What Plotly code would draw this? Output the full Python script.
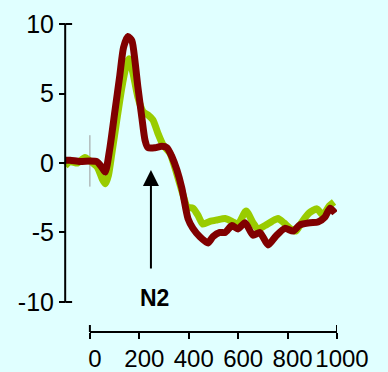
import plotly.graph_objects as go

# Event-related potential waveforms (time in ms, amplitude in µV)
t_green = [-100, -80, -50, -20, 0, 30, 50, 63, 75, 89, 109, 130, 150, 158, 174, 194, 215, 235, 255,
           275, 296, 324, 352, 377, 395, 417, 437, 457, 486, 514, 547, 575, 599, 632,
           660, 680, 709, 737, 761, 785, 810, 834, 858, 887, 919, 943, 968, 988]
v_green = [-0.2, 0.1, 0.0, 0.4, 0.15, -0.3, -1.15, -1.5, -0.9, 0.7, 3.1, 5.5, 7.2, 7.5, 6.5, 4.75, 3.7, 3.45, 3.1,
           2.15, 1.3, 0.7, -0.8, -2.3, -3.2, -3.25, -3.75, -4.4, -4.2, -4.1, -4.0, -4.2, -4.4, -3.45,
           -4.3, -4.75, -4.5, -4.2, -4.0, -4.3, -4.7, -4.9, -4.25, -3.6, -3.3, -3.75, -3.1, -2.8]

t_red = [-100, -80, -40, 0, 28, 46, 62, 81, 101, 121, 136, 154, 170, 182, 194, 210, 223, 235,
         263, 291, 312, 332, 352, 372, 397, 417, 445, 478, 498, 526, 547, 575,
         599, 628, 660, 688, 721, 753, 789, 822, 850, 891, 923, 951, 972, 992]
v_red = [0.2, 0.2, 0.1, 0.15, 0.1, -0.25, -0.65, 1.1, 3.7, 6.3, 8.3, 9.1, 8.8, 7.4, 5.5, 3.3, 1.65, 1.1,
         1.1, 1.2, 1.1, 0.45, -0.5, -1.8, -4.0, -4.7, -5.3, -5.75, -5.3, -5.0, -5.0, -4.5,
         -4.75, -4.3, -5.2, -5.0, -5.9, -5.25, -4.7, -4.9, -4.45, -4.3, -4.25, -3.9, -3.25, -3.6]

x_ticks = [0, 200, 400, 600, 800, 1000]
y_ticks = [-10, -5, 0, 5, 10]

BG = "#e0ffff"
FONT = "Arial, Liberation Sans, sans-serif"

fig = go.Figure()
fig.add_trace(go.Scatter(x=t_green, y=v_green, mode="lines",
                         line=dict(color="#99cc00", width=7, shape="spline", smoothing=0.6)))
fig.add_trace(go.Scatter(x=t_red, y=v_red, mode="lines",
                         line=dict(color="#800000", width=7, shape="spline", smoothing=0.6)))

ax_line = dict(color="black", width=2)
shapes = [
    # y axis with inward end caps
    dict(type="line", xref="x", yref="y", x0=-100, x1=-100, y0=-10, y1=10, line=ax_line),
    dict(type="line", xref="x", yref="y", x0=-100, x1=-72, y0=10, y1=10, line=ax_line),
    dict(type="line", xref="x", yref="y", x0=-100, x1=-72, y0=-10, y1=-10, line=ax_line),
    # x axis with upward end caps
    dict(type="line", xref="x", yref="paper", x0=0, x1=1000, y0=0, y1=0, line=ax_line),
    dict(type="line", xref="x", yref="paper", x0=0, x1=0, y0=0, y1=0.022, line=ax_line),
    dict(type="line", xref="x", yref="paper", x0=1000, x1=1000, y0=0, y1=0.022, line=ax_line),
    # stimulus onset marker
    dict(type="line", xref="x", yref="y", x0=0, x1=0, y0=2.0, y1=-1.7,
         line=dict(color="#999999", width=1), layer="below"),
]

fig.update_layout(
    width=388, height=372,
    margin=dict(l=60, r=51, t=14, b=40),
    paper_bgcolor=BG, plot_bgcolor=BG,
    showlegend=False,
    shapes=shapes,
    xaxis=dict(range=[-121, 1000], tickvals=x_ticks, ticktext=[str(v) for v in x_ticks],
               showgrid=False, zeroline=False, showline=False, automargin=False,
               ticks="outside", ticklen=6, tickwidth=2, tickcolor="black",
               tickangle=0, ticklabelshift=5, ticklabelstandoff=-1,
               tickfont=dict(family=FONT, size=24, color="black")),
    yaxis=dict(range=[-12.16, 10.72], tickvals=y_ticks, ticktext=[str(v) for v in y_ticks],
               anchor="free", position=0.018, automargin=False,
               showgrid=False, zeroline=False, showline=False,
               ticks="outside", ticklen=6, tickwidth=2, tickcolor="black",
               tickfont=dict(family=FONT, size=25, color="black")),
    annotations=[
        dict(x=247, y=-0.5, ax=247, ay=-7.7, xref="x", yref="y", axref="x", ayref="y",
             showarrow=True, arrowhead=2, arrowsize=1.6, arrowwidth=2, arrowcolor="black", text=""),
        dict(x=263, y=-9.7, xref="x", yref="y", text="<b>N2</b>", showarrow=False,
             font=dict(family=FONT, size=23, color="black")),
    ],
)

fig.write_html("out.html")
